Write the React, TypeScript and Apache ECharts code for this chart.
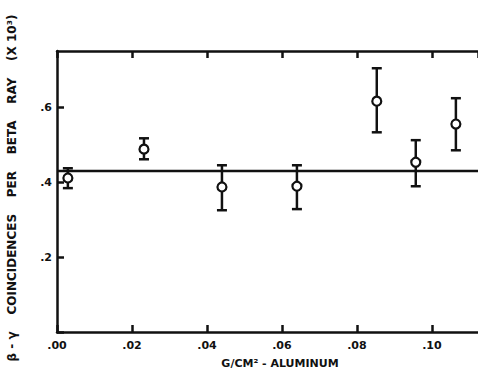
import React, { useEffect, useRef } from "react";
import * as echarts from "echarts";

const thickness = [0.0029, 0.0232, 0.044, 0.064, 0.0853, 0.0957, 0.1064];
const coincidences = [0.411, 0.488, 0.387, 0.389, 0.616, 0.453, 0.555];
const errLow = [0.384, 0.461, 0.325, 0.328, 0.533, 0.389, 0.485];
const errHigh = [0.437, 0.517, 0.445, 0.445, 0.704, 0.512, 0.624];
const fitValue = 0.43;
const xTickLabels: Record<string, string> = {
  "0": ".00",
  "0.02": ".02",
  "0.04": ".04",
  "0.06": ".06",
  "0.08": ".08",
  "0.1": ".10",
};
const yTickLabels: Record<string, string> = { "0.2": ".2", "0.4": ".4", "0.6": ".6" };

const X_MAX = 0.1123;
const Y_MAX = 0.75;
const INK = "#111";
const FONT = "DejaVu Sans";

export default function App() {
  const ref = useRef<HTMLDivElement>(null);
  useEffect(() => {
    if (!ref.current) return;
    const chart = echarts.init(ref.current, undefined, { renderer: "svg" });
    const round = (v: number) => String(Math.round(v * 1000) / 1000);
    const mkTick = () => ({ show: true, inside: true, length: 7, lineStyle: { color: INK, width: 2.5 } });
    chart.setOption({
      animation: false,
      backgroundColor: "#fff",
      grid: { left: 57, right: 0, top: 51, bottom: 42, containLabel: false },
      xAxis: [
        {
          type: "value",
          min: 0,
          max: X_MAX,
          interval: 0.02,
          position: "bottom",
          splitLine: { show: false },
          axisLine: { show: true, onZero: false, lineStyle: { color: INK, width: 2.5 } },
          axisTick: mkTick(),
          axisLabel: {
            color: INK,
            fontFamily: FONT,
            fontWeight: "bold",
            fontSize: 11,
            margin: 8,
            showMaxLabel: false,
            formatter: (v: number) => xTickLabels[round(v)] ?? "",
          },
        },
        {
          type: "value",
          min: 0,
          max: X_MAX,
          interval: 0.02,
          position: "top",
          splitLine: { show: false },
          axisLine: { show: true, onZero: false, lineStyle: { color: INK, width: 2.5 } },
          axisTick: mkTick(),
          axisLabel: { show: false },
        },
      ],
      yAxis: {
        type: "value",
        min: 0,
        max: Y_MAX,
        interval: 0.2,
        splitLine: { show: false },
        axisLine: { show: true, onZero: false, lineStyle: { color: INK, width: 2.5 } },
        axisTick: mkTick(),
        axisLabel: {
          color: INK,
          fontFamily: FONT,
          fontWeight: "bold",
          fontSize: 11,
          margin: 5,
          showMaxLabel: false,
          formatter: (v: number) => yTickLabels[round(v)] ?? "",
        },
      },
      graphic: [
        {
          type: "text",
          x: 12,
          y: 188,
          rotation: Math.PI / 2,
          style: {
            text: "β - γ    COINCIDENCES    PER    BETA    RAY    (X 10³)",
            fill: INK,
            font: `bold 12px "${FONT}"`,
            textAlign: "center",
            textVerticalAlign: "middle",
          },
        },
        {
          type: "text",
          x: 280,
          y: 363,
          style: {
            text: "G/CM² - ALUMINUM",
            fill: INK,
            font: `bold 11px "${FONT}"`,
            textAlign: "center",
            textVerticalAlign: "middle",
          },
        },
      ],
      series: [
        {
          type: "line",
          data: [
            [0, fitValue],
            [X_MAX, fitValue],
          ],
          symbol: "none",
          lineStyle: { color: INK, width: 2.5 },
          z: 1,
        },
        {
          type: "custom",
          data: thickness.map((x, i) => [x, errLow[i], errHigh[i]]),
          renderItem: (params: any, api: any) => {
            const x = api.value(0);
            const hi = api.coord([x, api.value(2)]);
            const lo = api.coord([x, api.value(1)]);
            const w = 5;
            const style = { stroke: INK, lineWidth: 2.5 };
            return {
              type: "group",
              children: [
                { type: "line", shape: { x1: hi[0], y1: hi[1], x2: lo[0], y2: lo[1] }, style },
                { type: "line", shape: { x1: hi[0] - w, y1: hi[1], x2: hi[0] + w, y2: hi[1] }, style },
                { type: "line", shape: { x1: lo[0] - w, y1: lo[1], x2: lo[0] + w, y2: lo[1] }, style },
              ],
            };
          },
          z: 2,
        },
        {
          type: "scatter",
          data: thickness.map((x, i) => [x, coincidences[i]]),
          symbol: "circle",
          symbolSize: 9,
          itemStyle: { color: "#fff", borderColor: INK, borderWidth: 2.2, opacity: 1 },
          z: 3,
        },
      ],
    });
    return () => chart.dispose();
  }, []);
  return <div ref={ref} style={{ width: 478, height: 374, position: "fixed", left: 0, top: 0 }} />;
}
